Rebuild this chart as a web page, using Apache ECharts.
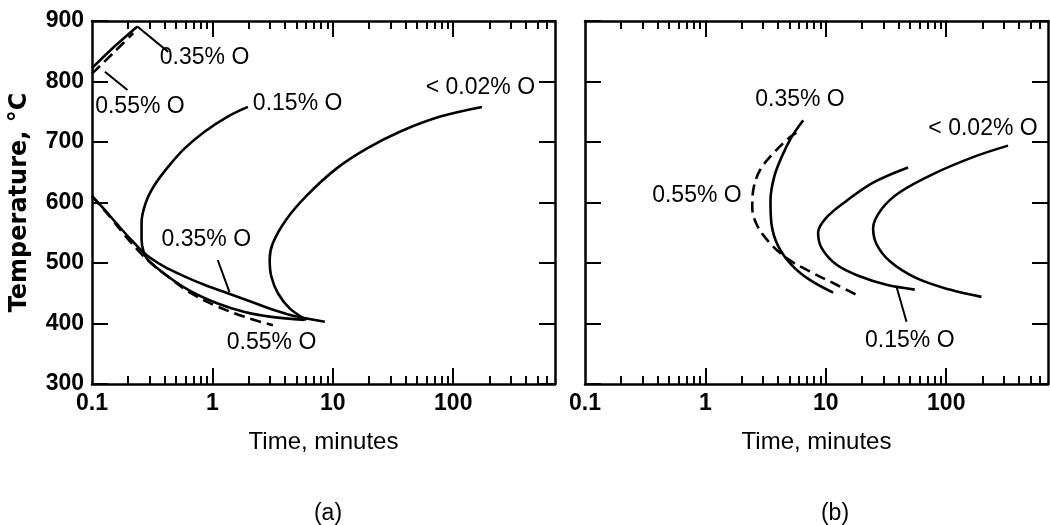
<!DOCTYPE html>
<html><head><meta charset="utf-8">
<script src="https://cdn.jsdelivr.net/npm/echarts@6/dist/echarts.min.js"></script>
<style>html,body{margin:0;padding:0;background:#fff}#c{width:1050px;height:525px}</style>
</head><body><div id="c"></div>
<script>
// ---------- axis ticks / labels ----------
const xTickLabels = [0.1, 1, 10, 100];
const xMajorTicks = [1, 10, 100];
const xMinorTicks = [0.2,0.3,0.4,0.5,0.6,0.7,0.8,0.9, 2,3,4,5,6,7,8,9, 20,30,40,50,60,70,80,90, 200,300,400,500,600];
const xMin = 0.1, xMax = 700;
const yMin = 300, yMax = 900, yStep = 100;

// ---------- panel (a) : time (min), temperature (°C) ----------
const a_lt002 = [[173,758],[78,742],[36,717],[19.1,689],[10.7,656],[6.04,611],[4.11,572],[3.18,533],[2.99,506],[3.08,478],[3.5,450],[4.38,425],[6.04,406]];
const a_015 = [[1.97,758],[1.34,742],[0.86,717],[0.585,689],[0.425,658],[0.329,628],[0.28,600],[0.258,567],[0.258,539],[0.268,519],[0.289,506],[0.425,478],[0.664,453],[1.107,433],[1.85,419],[3.08,411],[5.84,406]];
const a_035_upper = [[0.1,822],[0.152,857],[0.238,891]];
const a_035_lower = [[0.1,611],[0.126,589],[0.162,564],[0.21,539],[0.28,514],[0.398,494],[0.585,478],[0.857,464],[1.34,450],[2.1,436],[3.29,422],[5.14,411],[8.58,403]];
const a_055_upper = [[0.1,813],[0.15,847],[0.22,880]];
const a_055_lower = [[0.1,610],[0.111,600],[0.143,575],[0.185,547],[0.238,522],[0.308,500],[0.425,478],[0.664,450],[1.107,428],[1.85,411],[3.18,397]];
const a_leaders = [
  [[0.238,891],[0.43,849]],
  [[0.128,816],[0.197,786]],
  [[1.107,505],[1.386,452]]
];
const a_labelText = ['0.35% O','0.55% O','0.15% O','< 0.02% O','0.35% O','0.55% O'];
const a_labelPos = [[0.86,840],[0.25,759],[5.1,764],[168,789],[0.89,538],[3.1,368]];

// ---------- panel (b) ----------
const b_lt002 = [[326,694],[167,675],[77.7,647],[41.1,617],[29,589],[24.7,558],[26.4,531],[34,503],[56.6,475],[107,456],[196,444]];
const b_015 = [[48.2,658],[24.7,633],[14.9,603],[10.1,575],[8.63,550],[9.21,525],[12.3,497],[19.1,478],[31.9,464],[54.8,456]];
const b_035 = [[6.49,736],[5.19,708],[4.29,675],[3.72,642],[3.47,603],[3.54,564],[4.02,528],[5.19,497],[7.36,472],[11.5,451]];
const b_055 = [[5.7,715],[5.03,708],[3.65,681],[2.83,653],[2.49,619],[2.45,592],[2.66,564],[3.32,536],[4.72,508],[7.36,486],[12.3,464],[18.5,446]];
const b_leaders = [
  [[38.6,461],[46.8,403]]
];
const b_labelText = ['0.35% O','0.55% O','< 0.02% O','0.15% O'];
const b_labelPos = [[6.1,770],[0.85,611],[202,722],[49.8,372]];

const panelCaptions = ['(a)','(b)'];
const xName = 'Time, minutes';
const yName = 'Temperature, \u00B0C';

// ---------- build ----------
const INK = '#000';
const FONT = '"Liberation Sans", Arial, sans-serif';
const grids = [
  {left: 92, top: 21, width: 463, height: 363},
  {left: 585, top: 21, width: 463, height: 363}
];

const xAxes = [], yAxes = [];
grids.forEach((g, gi) => {
  const base = {type:'log', logBase:10, gridIndex:gi, min:xMin, max:xMax, splitLine:{show:false}};
  xAxes.push(Object.assign({}, base, {
    position:'bottom',
    axisLine:{show:true, onZero:false, lineStyle:{color:INK, width:2.5}},
    axisTick:{show:true, inside:true, length:16, customValues:xMajorTicks, lineStyle:{color:INK, width:2}},
    axisLabel:{show:true, customValues:xTickLabels, margin:8, color:INK, fontSize:23, fontWeight:'bold', fontFamily:FONT},
    name:xName, nameLocation:'middle', nameGap:46,
    nameTextStyle:{color:INK, fontSize:24, fontFamily:FONT}
  }));
  xAxes.push(Object.assign({}, base, {
    position:'bottom',
    axisLine:{show:false, onZero:false},
    axisTick:{show:true, inside:true, length:8, customValues:xMinorTicks, lineStyle:{color:INK, width:2}},
    axisLabel:{show:false}
  }));
  xAxes.push(Object.assign({}, base, {
    position:'top',
    axisLine:{show:true, onZero:false, lineStyle:{color:INK, width:2.5}},
    axisTick:{show:true, inside:true, length:16, customValues:xMajorTicks, lineStyle:{color:INK, width:2}},
    axisLabel:{show:false}
  }));
  xAxes.push(Object.assign({}, base, {
    position:'top',
    axisLine:{show:false, onZero:false},
    axisTick:{show:true, inside:true, length:8, customValues:xMinorTicks, lineStyle:{color:INK, width:2}},
    axisLabel:{show:false}
  }));

  const ybase = {type:'value', gridIndex:gi, min:yMin, max:yMax, interval:yStep, splitLine:{show:false}};
  yAxes.push(Object.assign({}, ybase, {
    position:'left',
    axisLine:{show:true, onZero:false, lineStyle:{color:INK, width:2.5}},
    axisTick:{show:true, inside:true, length:16, lineStyle:{color:INK, width:2}},
    axisLabel:{show: gi === 0, margin:8, color:INK, fontSize:23, fontWeight:'bold', fontFamily:FONT},
    name: gi === 0 ? yName : '', nameLocation:'middle', nameGap:60,
    nameTextStyle:{color:INK, fontSize:24, fontWeight:'bold', fontFamily:'"DejaVu Sans", sans-serif'}
  }));
  yAxes.push(Object.assign({}, ybase, {
    position:'right',
    axisLine:{show:true, onZero:false, lineStyle:{color:INK, width:2.5}},
    axisTick:{show:true, inside:true, length:16, lineStyle:{color:INK, width:2}},
    axisLabel:{show:false}
  }));
});

const series = [];
function curve(data, gi, dashed, name) {
  series.push({
    type:'line', name:name, xAxisIndex: gi*4, yAxisIndex: gi*2, data:data,
    showSymbol:false, symbol:'none', smooth:0.35, silent:true,
    lineStyle:{color:INK, width:2.6, type: dashed ? [11,6] : 'solid'}
  });
}
function leader(data, gi) {
  series.push({
    type:'line', xAxisIndex: gi*4, yAxisIndex: gi*2, data:data,
    showSymbol:false, symbol:'none', silent:true,
    lineStyle:{color:INK, width:2}
  });
}
function labels(texts, pos, gi) {
  series.push({
    type:'scatter', xAxisIndex: gi*4, yAxisIndex: gi*2, silent:true,
    symbolSize:1, itemStyle:{color:'rgba(255,255,255,0)'},
    data: pos.map((p, i) => ({name: texts[i], value: p})),
    label:{show:true, position:'inside', formatter:'{b}', color:INK, textBorderWidth:0, opacity:1,
      fontSize:23, fontFamily:FONT, align:'center', verticalAlign:'middle'}
  });
}

curve(a_lt002, 0, false, '<0.02% O');
curve(a_015, 0, false, '0.15% O');
curve(a_035_upper, 0, false, '0.35% O');
curve(a_035_lower, 0, false, '0.35% O');
curve(a_055_upper, 0, true, '0.55% O');
curve(a_055_lower, 0, true, '0.55% O');
a_leaders.forEach(l => leader(l, 0));
labels(a_labelText, a_labelPos, 0);

curve(b_lt002, 1, false, '<0.02% O');
curve(b_015, 1, false, '0.15% O');
curve(b_035, 1, false, '0.35% O');
curve(b_055, 1, true, '0.55% O');
b_leaders.forEach(l => leader(l, 1));
labels(b_labelText, b_labelPos, 1);

const chart = echarts.init(document.getElementById('c'), null, {renderer:'canvas'});
chart.setOption({
  animation:false,
  backgroundColor:'#fff',
  title: [
    {text: panelCaptions[0], left: 323, top: 497, textAlign:'center', textStyle:{color:INK, fontSize:23, fontWeight:'normal', fontFamily:FONT}},
    {text: panelCaptions[1], left: 830, top: 497, textAlign:'center', textStyle:{color:INK, fontSize:23, fontWeight:'normal', fontFamily:FONT}}
  ],
  grid: grids,
  xAxis: xAxes,
  yAxis: yAxes,
  series: series
});
</script>
</body></html>
